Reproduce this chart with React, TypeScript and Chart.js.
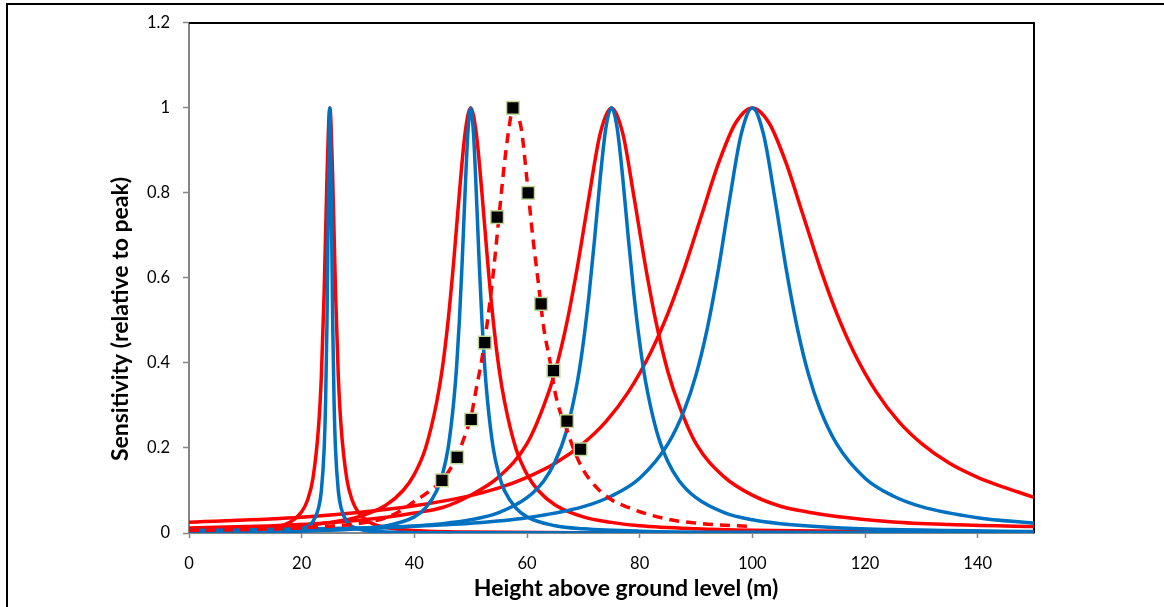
import { useEffect, useRef } from "react";
import { Chart, registerables } from "chart.js";

Chart.register(...registerables);

const RED = "#FF0000";
const BLUE = "#0070C0";
const FONT = "Lato, 'Open Sans', sans-serif";

const xTitle = "Height above ground level (m)";
const yTitle = "Sensitivity (relative to peak)";

// Narrow red response, peak at 25 m
const red25X = [0, 5, 10, 15, 18, 20, 21, 22, 23, 23.5, 24, 24.5, 25, 25.5, 26, 26.5, 27, 28, 29, 30, 32, 35, 40, 50, 75, 100, 150];
const red25Y = [0.0021, 0.0033, 0.0058, 0.013, 0.026, 0.05, 0.076, 0.128, 0.25, 0.37, 0.57, 0.84, 1, 0.84, 0.57, 0.37, 0.25, 0.128, 0.076, 0.05, 0.026, 0.013, 0.0058, 0.0021, 0.0005, 0.0002, 0.0001];

// Blue response, peak at 25 m
const blue25X = [0, 10, 15, 20, 22, 23, 23.5, 24, 24.25, 24.5, 24.75, 25, 25.25, 25.5, 25.75, 26, 26.5, 27, 28, 30, 35, 50, 100, 150];
const blue25Y = [0.0004, 0.0011, 0.0025, 0.01, 0.027, 0.059, 0.1, 0.2, 0.31, 0.5, 0.8, 1, 0.8, 0.5, 0.31, 0.2, 0.1, 0.059, 0.027, 0.01, 0.0025, 0.0004, 0.0001, 0];

// Red response, peak at 50 m
const red50X = [0, 10, 20, 25, 30, 35, 38, 40, 42, 44, 45, 46, 47, 48, 49, 50, 51, 52, 53, 54, 55, 56, 58, 60, 62, 65, 70, 75, 80, 90, 100, 125, 150];
const red50Y = [0.0064, 0.0099, 0.017, 0.025, 0.038, 0.066, 0.1, 0.138, 0.2, 0.31, 0.39, 0.5, 0.64, 0.8, 0.94, 1, 0.94, 0.8, 0.64, 0.5, 0.39, 0.31, 0.2, 0.138, 0.1, 0.066, 0.038, 0.025, 0.017, 0.0099, 0.0064, 0.0028, 0.0016];

// Blue response, peak at 50 m
const blue50X = [0, 20, 30, 35, 40, 42, 44, 45, 46, 47, 47.5, 48, 48.5, 49, 49.5, 50, 50.5, 51, 51.5, 52, 52.5, 53, 54, 55, 56, 58, 60, 65, 70, 80, 100, 150];
const blue50Y = [0.0016, 0.0044, 0.0099, 0.017, 0.038, 0.059, 0.1, 0.138, 0.2, 0.31, 0.39, 0.5, 0.64, 0.8, 0.94, 1, 0.94, 0.8, 0.64, 0.5, 0.39, 0.31, 0.2, 0.138, 0.1, 0.059, 0.038, 0.017, 0.0099, 0.0044, 0.0016, 0.0004];

// Red response, peak at 75 m
const red75X = [0, 10, 15, 25, 35, 40, 45, 50, 55, 60, 63, 65, 67, 69, 71, 73, 75, 77, 79, 81, 83, 85, 87, 90, 95, 100, 105, 110, 115, 125, 135, 150];
const red75Y = [0.012, 0.015, 0.017, 0.024, 0.037, 0.047, 0.06, 0.089, 0.132, 0.21, 0.3, 0.38, 0.49, 0.63, 0.79, 0.94, 1, 0.94, 0.79, 0.63, 0.49, 0.38, 0.3, 0.21, 0.132, 0.089, 0.063, 0.049, 0.039, 0.026, 0.02, 0.015];

// Blue response, peak at 75 m
const blue75X = [0, 25, 35, 45, 50, 55, 60, 63, 65, 67, 69, 70, 71, 72, 73, 74, 75, 76, 77, 78, 79, 80, 81, 83, 85, 87, 90, 95, 100, 105, 115, 125, 150];
const blue75Y = [0.0036, 0.008, 0.0125, 0.022, 0.031, 0.048, 0.083, 0.123, 0.168, 0.24, 0.36, 0.448, 0.559, 0.692, 0.835, 0.953, 1, 0.953, 0.835, 0.692, 0.559, 0.448, 0.36, 0.24, 0.168, 0.123, 0.083, 0.048, 0.031, 0.022, 0.0125, 0.008, 0.0036];

// Red response, peak at 100 m
const red100X = [0, 20, 30, 40, 50, 55, 60, 65, 70, 74, 78, 82, 85, 88, 91, 94, 97, 100, 103, 106, 109, 112, 115, 118, 122, 126, 130, 135, 140, 145, 150];
const red100Y = [0.025, 0.037, 0.048, 0.064, 0.088, 0.106, 0.131, 0.164, 0.211, 0.262, 0.332, 0.426, 0.516, 0.625, 0.748, 0.87, 0.964, 1, 0.964, 0.87, 0.748, 0.625, 0.516, 0.426, 0.332, 0.262, 0.211, 0.164, 0.131, 0.106, 0.084];

// Blue response, peak at 100 m
const blue100X = [0, 25, 40, 50, 60, 70, 75, 80, 85, 88, 90, 92, 94, 96, 98, 100, 102, 104, 106, 108, 110, 112, 115, 120, 125, 130, 140, 150];
const blue100Y = [0.0059, 0.0104, 0.016, 0.023, 0.036, 0.062, 0.087, 0.129, 0.209, 0.292, 0.372, 0.481, 0.622, 0.787, 0.937, 1, 0.937, 0.787, 0.622, 0.481, 0.372, 0.292, 0.209, 0.129, 0.087, 0.062, 0.036, 0.023];

// Dashed fitted curve, peak near 57.5 m
const fitX = [0, 10, 20, 25, 30, 35, 37.5, 40, 42.5, 45, 47.5, 49, 50, 51, 52, 53, 54, 55, 56, 57, 57.5, 58, 59, 60, 61, 62, 63, 64, 65, 66, 67, 68.5, 70, 72.5, 75, 78, 82, 86, 91, 100];
const fitY = [0.006, 0.008, 0.012, 0.016, 0.022, 0.036, 0.052, 0.074, 0.097, 0.125, 0.178, 0.23, 0.27, 0.34, 0.41, 0.5, 0.61, 0.74, 0.87, 0.97, 1, 0.99, 0.95, 0.83, 0.7, 0.59, 0.48, 0.41, 0.33, 0.28, 0.245, 0.19, 0.148, 0.105, 0.078, 0.06, 0.042, 0.03, 0.022, 0.015];

// Measured points (black squares)
const obsX = [44.9, 47.6, 50.1, 52.5, 54.7, 57.5, 60.2, 62.5, 64.7, 67.1, 69.5];
const obsY = [0.124, 0.178, 0.267, 0.448, 0.743, 1.0, 0.8, 0.539, 0.382, 0.263, 0.197];

const pts = (xs: number[], ys: number[]) => xs.map((x, i) => ({ x, y: ys[i] }));

const lineDs = (xs: number[], ys: number[], color: string, extra: any = {}) => ({
  data: pts(xs, ys),
  borderColor: color,
  backgroundColor: color,
  borderWidth: 3.5,
  pointRadius: 0,
  fill: false,
  cubicInterpolationMode: "monotone",
  ...extra,
});

const framePlugin = {
  id: "frameAndTitles",
  beforeDatasetsDraw(chart: any) {
    const { ctx, chartArea } = chart;
    const { left, right, top, bottom } = chartArea;
    ctx.save();
    ctx.strokeStyle = "#000";
    ctx.lineWidth = 2;
    ctx.beginPath();
    ctx.moveTo(left, top);
    ctx.lineTo(right, top);
    ctx.lineTo(right, bottom);
    ctx.stroke();
    ctx.restore();
  },
  afterDraw(chart: any) {
    const { ctx } = chart;
    ctx.save();
    ctx.fillStyle = "#000";
    ctx.font = `bold 23px ${FONT}`;
    ctx.textAlign = "center";
    ctx.textBaseline = "middle";
    ctx.fillText(xTitle, 626, 589);
    ctx.translate(121, 319);
    ctx.rotate(-Math.PI / 2);
    ctx.fillText(yTitle, 0, 0);
    ctx.restore();
  },
};

export default function App() {
  const ref = useRef<HTMLCanvasElement | null>(null);

  useEffect(() => {
    if (!ref.current) return;
    const chart = new Chart(ref.current, {
      type: "line",
      data: {
        datasets: [
          {
            data: pts(obsX, obsY),
            showLine: false,
            pointStyle: "rect",
            pointRadius: 9,
            pointBackgroundColor: "#000",
            pointBorderColor: "#C4D79B",
            pointBorderWidth: 1.5,
            borderColor: "#000",
            backgroundColor: "#000",
          },
          lineDs(fitX, fitY, RED, { borderDash: [10, 7] }),
          lineDs(blue25X, blue25Y, BLUE),
          lineDs(blue50X, blue50Y, BLUE),
          lineDs(blue75X, blue75Y, BLUE),
          lineDs(blue100X, blue100Y, BLUE),
          lineDs(red25X, red25Y, RED),
          lineDs(red50X, red50Y, RED),
          lineDs(red75X, red75Y, RED),
          lineDs(red100X, red100Y, RED),
        ] as any,
      },
      options: {
        animation: false,
        responsive: false,
        events: [],
        layout: { padding: { left: 0, right: 130, top: 21, bottom: 0 } },
        plugins: {
          legend: { display: false },
          tooltip: { enabled: false },
          title: { display: false },
        },
        scales: {
          x: {
            type: "linear",
            min: 0,
            max: 150,
            ticks: {
              stepSize: 20,
              includeBounds: false,
              color: "#000",
              font: { family: FONT, size: 16.5 },
              padding: 16,
              maxRotation: 0,
            },
            grid: { drawOnChartArea: false, drawTicks: true, tickLength: 5, color: "#868686", tickWidth: 1.5 },
            border: { display: true, color: "#868686", width: 2 },
            afterFit: (s: any) => {
              s.height = 74;
            },
          },
          y: {
            type: "linear",
            min: 0,
            max: 1.2,
            ticks: {
              stepSize: 0.2,
              color: "#000",
              font: { family: FONT, size: 16.5 },
              padding: 13,
              callback: (v: any) => String(Math.round(Number(v) * 10) / 10),
            },
            grid: { drawOnChartArea: false, drawTicks: true, tickLength: 6, color: "#868686", tickWidth: 1.5 },
            border: { display: true, color: "#868686", width: 2 },
            afterFit: (s: any) => {
              s.width = 189;
            },
          },
        },
      } as any,
      plugins: [framePlugin],
    });
    return () => chart.destroy();
  }, []);

  return (
    <div
      style={{
        position: "fixed",
        left: 0,
        top: 0,
        width: 1164,
        height: 607,
        background: "#fff",
        overflow: "hidden",
      }}
    >
      <div
        style={{
          position: "absolute",
          left: 6,
          top: 3,
          width: 2000,
          height: 2000,
          border: "2px solid #000",
        }}
      />
      <canvas
        ref={ref}
        width={1164}
        height={607}
        style={{ position: "absolute", left: 0, top: 0, width: 1164, height: 607 }}
      />
    </div>
  );
}
